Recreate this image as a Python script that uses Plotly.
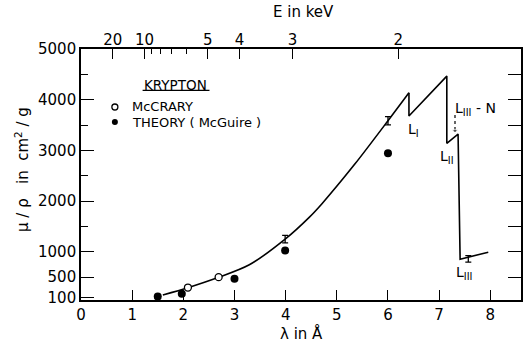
import plotly.graph_objects as go

# ---------------- data ----------------
# smooth part of the absorption curve (lambda in Angstrom, mu/rho in cm^2/g)
curve_lam = [1.60, 2.09, 2.69, 3.29, 3.99, 4.46, 4.71, 5.36, 6.00, 6.41]
curve_mu = [150, 292, 497, 745, 1250, 1680, 1950, 2740, 3585, 4137]
# edge structure (straight segments)
edge_lam = [6.41, 6.41, 7.15, 7.15, 7.37, 7.41, 7.96]
edge_mu = [4137, 3678, 4466, 3140, 3323, 855, 993]

# McCrary measurements (open circles)
mccrary_lam = [2.09, 2.69]
mccrary_mu = [296, 500]
# McCrary measurements shown as error bars
bar_lam = [3.99, 6.00, 7.57]
bar_mu = [1250, 3585, 861]
bar_err = [75, 80, 65]

# Theory (McGuire), filled circles
theory_lam = [1.50, 1.97, 3.00, 3.99, 6.00]
theory_mu = [118, 171, 467, 1025, 2943]

# L_III - N dashed marker
lnn_lam = [7.31, 7.31]
lnn_mu = [3700, 3390]

# axes
x_ticks = [0, 1, 2, 3, 4, 5, 6, 7, 8]
y_ticks = [100, 500, 1000, 2000, 3000, 4000, 5000]
y_minor = [1500, 2500, 3500, 4500]
y_right = [500, 1000, 1500, 2000, 2500, 3000, 3500, 4000, 4500]
e_ticks = [20, 10, 5, 4, 3, 2]
e_minor = [9, 8, 7, 6]
HC = 12.398  # keV * Angstrom

X_RANGE = [0, 8.6]
Y_RANGE = [50, 5000]

FONT = "DejaVu Sans"
BLACK = "black"

fig = go.Figure()

fig.add_trace(go.Scatter(x=curve_lam, y=curve_mu, mode="lines",
                         line=dict(color=BLACK, width=1.6, shape="spline", smoothing=0.8),
                         hoverinfo="skip", showlegend=False))
fig.add_trace(go.Scatter(x=edge_lam, y=edge_mu, mode="lines",
                         line=dict(color=BLACK, width=1.6),
                         hoverinfo="skip", showlegend=False))
fig.add_trace(go.Scatter(x=bar_lam, y=bar_mu, mode="markers",
                         marker=dict(size=1, color="rgba(0,0,0,0)"),
                         error_y=dict(type="data", array=bar_err, visible=True,
                                      color=BLACK, thickness=1.3, width=3),
                         hoverinfo="skip", showlegend=False))
fig.add_trace(go.Scatter(x=theory_lam, y=theory_mu, mode="markers",
                         marker=dict(size=8, color=BLACK),
                         hoverinfo="skip", showlegend=False))
fig.add_trace(go.Scatter(x=mccrary_lam, y=mccrary_mu, mode="markers",
                         marker=dict(size=7, color="white", line=dict(color=BLACK, width=1.3)),
                         hoverinfo="skip", showlegend=False))
fig.add_trace(go.Scatter(x=lnn_lam, y=lnn_mu, mode="lines+markers",
                         line=dict(color=BLACK, width=1.2, dash="dot"),
                         marker=dict(symbol=["line-ns", "triangle-down"], size=[0, 5], color=BLACK),
                         hoverinfo="skip", showlegend=False))

# helper traces so the secondary axes exist
fig.add_trace(go.Scatter(x=[None], y=[None], xaxis="x2", yaxis="y", showlegend=False, hoverinfo="skip"))
fig.add_trace(go.Scatter(x=[None], y=[None], xaxis="x", yaxis="y2", showlegend=False, hoverinfo="skip"))

# legend keys on a paper-like helper axis pair
legend_key_x = [0.077, 0.077]
legend_key_y = [0.769, 0.709]
fig.add_trace(go.Scatter(x=[legend_key_x[0]], y=[legend_key_y[0]], xaxis="x3", yaxis="y3", mode="markers",
                         marker=dict(size=6, color="white", line=dict(color=BLACK, width=1.3)),
                         showlegend=False, hoverinfo="skip"))
fig.add_trace(go.Scatter(x=[legend_key_x[1]], y=[legend_key_y[1]], xaxis="x3", yaxis="y3", mode="markers",
                         marker=dict(size=6, color=BLACK),
                         showlegend=False, hoverinfo="skip"))

tickfont = dict(family=FONT, size=15, color=BLACK)

fig.update_layout(
    width=526, height=343,
    margin=dict(l=81, r=3, t=49, b=43),
    paper_bgcolor="white", plot_bgcolor="rgba(0,0,0,0)",
    font=dict(family=FONT, color=BLACK),
    xaxis=dict(range=X_RANGE, tickmode="array", tickvals=x_ticks,
               ticks="inside", ticklen=10, tickwidth=1.3, tickcolor=BLACK,
               showline=True, linewidth=1.6, linecolor=BLACK, mirror=True,
               showgrid=False, zeroline=False, tickfont=tickfont),
    xaxis2=dict(range=X_RANGE, overlaying="x", side="top", anchor="y",
                tickmode="array", tickvals=[HC / e for e in e_ticks],
                ticktext=[str(e) for e in e_ticks],
                ticks="inside", ticklen=10, tickwidth=1.3, tickcolor=BLACK,
                minor=dict(tickmode="array", tickvals=[HC / e for e in e_minor],
                           ticks="inside", ticklen=5, tickwidth=1.2, tickcolor=BLACK),
                showline=False, showgrid=False, zeroline=False, tickfont=tickfont),
    yaxis=dict(range=Y_RANGE, tickmode="array", tickvals=y_ticks,
               ticks="inside", ticklen=13, tickwidth=1.3, tickcolor=BLACK,
               minor=dict(tickmode="array", tickvals=y_minor,
                          ticks="inside", ticklen=7, tickwidth=1.2, tickcolor=BLACK),
               showline=True, linewidth=1.6, linecolor=BLACK, mirror=True,
               showgrid=False, zeroline=False, tickfont=tickfont),
    yaxis2=dict(range=Y_RANGE, overlaying="y", side="right", anchor="x",
                tickmode="array", tickvals=y_right, showticklabels=False,
                ticks="inside", ticklen=13, tickwidth=1.3, tickcolor=BLACK,
                showline=False, showgrid=False, zeroline=False),
    xaxis3=dict(range=[0, 1], overlaying="x", anchor="y3", visible=False),
    yaxis3=dict(range=[0, 1], overlaying="y", anchor="x3", visible=False),
)

ann = []
def add_text(text, x, y, size=14, xref="paper", yref="paper", xanchor="center", yanchor="middle", angle=0):
    ann.append(dict(text=text, x=x, y=y, xref=xref, yref=yref, xanchor=xanchor, yanchor=yanchor,
                    showarrow=False, textangle=angle, font=dict(family=FONT, size=size, color=BLACK)))

# axis titles
add_text("λ in Å", 0.50, -0.135, size=15)
add_text("E in keV", 0.505, 1.147, size=15)
add_text("μ / ρ \u00a0 in \u00a0cm<sup>2</sup> / g", -0.133, 0.52, size=15, angle=-90)

# legend
add_text("KRYPTON", 0.215, 0.857, size=13.5)
add_text("McCRARY", 0.111, 0.769, size=13, xanchor="left")
add_text("THEORY ( McGuire )", 0.111, 0.709, size=13, xanchor="left")

# edge labels (data coordinates)
add_text("L<sub>I</sub>", 6.36, 3400, size=14, xref="x", yref="y", xanchor="left")
add_text("L<sub>II</sub>", 6.98, 2870, size=14, xref="x", yref="y", xanchor="left")
add_text("L<sub>III</sub>", 7.29, 590, size=14, xref="x", yref="y", xanchor="left")
add_text("L<sub>III</sub> - N", 7.27, 3820, size=14, xref="x", yref="y", xanchor="left")

fig.update_layout(annotations=ann)
fig.add_shape(type="line", xref="paper", yref="paper", x0=0.140, x1=0.292, y0=0.835, y1=0.835,
              line=dict(color=BLACK, width=1.2))

fig.write_html("out.html")
